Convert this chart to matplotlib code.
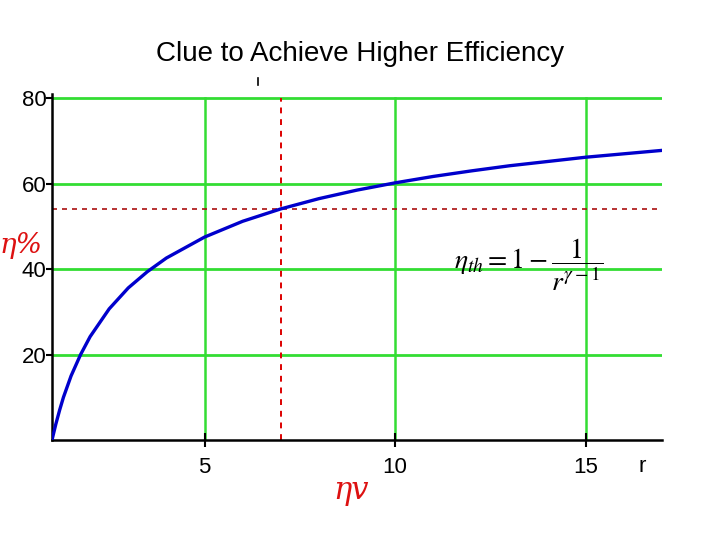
import matplotlib
matplotlib.use("Agg")
import matplotlib.pyplot as plt
from matplotlib.lines import Line2D

# values
r_vals = [1, 1.1, 1.2, 1.3, 1.5, 1.75, 2, 2.5, 3, 3.5, 4, 5, 6, 7, 8, 9,
          10, 11, 12, 13, 14, 15, 16, 17]
eta_vals = [0, 3.7, 7.0, 10.0, 15.0, 20.0, 24.2, 30.7, 35.6, 39.4, 42.6, 47.5,
            51.2, 54.1, 56.5, 58.5, 60.2, 61.7, 63.0, 64.2, 65.2, 66.2, 67.0, 67.8]
x_ticks = [5, 10, 15]
y_ticks = [20, 40, 60, 80]
r_mark = 7
eta_mark = 54

tick_font = ['Liberation Sans', 'DejaVu Sans']
plt.rcParams['mathtext.fontset'] = 'stix'

fig = plt.figure(figsize=(7.2, 5.4), dpi=100)
ax = fig.add_axes([52 / 720, 1 - 440 / 540, 610 / 720, 346 / 540])

ax.set_xlim(1, 17)
ax.set_ylim(0, 81)

# green grid
for yv in y_ticks:
    ax.axhline(yv, color='#33dd33', lw=2.0, zorder=1)
for xv in x_ticks:
    ax.axvline(xv, ymax=80 / 81, color='#33dd33', lw=1.8, zorder=1)

# red reference lines
ax.axvline(r_mark, ymax=80 / 81, color='#dd0000', lw=1.4, ls=(0, (3, 3)), zorder=2)
ax.axhline(eta_mark, xmax=0.993, color='#aa1111', lw=1.2, ls=(0, (3, 3)), zorder=2)

ax.plot(r_vals, eta_vals, color='#0000cc', lw=2.4, zorder=3)

for s in ['top', 'right']:
    ax.spines[s].set_visible(False)
ax.spines['left'].set_linewidth(1.8)
ax.spines['bottom'].set_linewidth(1.8)

ax.set_xticks(x_ticks)
ax.set_yticks(y_ticks)
ax.tick_params(axis='y', direction='out', length=4, width=1.5, pad=0)
ax.tick_params(axis='x', direction='inout', length=10, width=1.5, pad=7)
for lbl in ax.get_xticklabels() + ax.get_yticklabels():
    lbl.set_family(tick_font)
    lbl.set_fontsize(16)
ax.text(16.47, -0.045, 'r', transform=ax.get_xaxis_transform(), ha='center',
        va='top', fontsize=16, family=tick_font)

fig.text(0.5, 1 - 54 / 540, 'Clue to Achieve Higher Efficiency', ha='center',
         va='center', fontsize=20, family=['Liberation Sans', 'DejaVu Sans'])

# formula
ax.text(13.5, 41, r'$\eta_{th} = 1 - \dfrac{1}{r^{\gamma - 1}}$', ha='center',
        va='center', fontsize=20)

# handwritten notes
fig.text(0, 1 - 246 / 540, 'η%', color='#dd1111', fontsize=20, style='italic',
         ha='left', va='center', family=['DejaVu Serif'])
fig.text(333 / 720, 1 - 490 / 540, 'ηv', color='#dd1111', fontsize=22,
         style='italic', ha='left', va='center', family=['DejaVu Serif'])

# small stray mark above the plot
fig.add_artist(Line2D([258 / 720, 258 / 720], [1 - 78 / 540, 1 - 85 / 540],
                      color='black', lw=1.2))

fig.savefig('out.png', dpi=100)
